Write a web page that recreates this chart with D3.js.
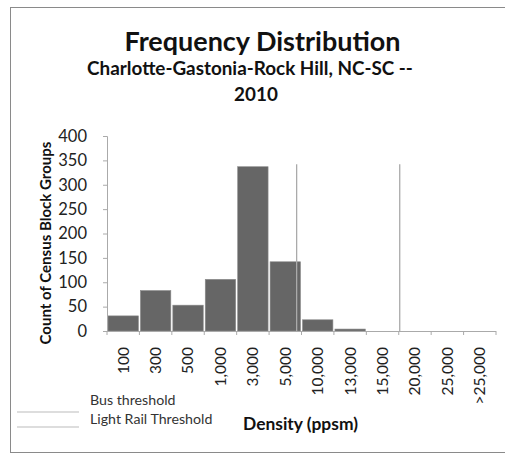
<!DOCTYPE html>
<html><head><meta charset="utf-8">
<script src="https://cdn.jsdelivr.net/npm/d3@7"></script>
<style>body{margin:0;background:#fff}svg{display:block}text{font-family:Lato,"Open Sans",sans-serif}</style>
</head><body><svg id="c" width="505" height="455"></svg>
<script>
const categories = ["100","300","500","1,000","3,000","5,000","10,000","13,000","15,000","20,000","25,000",">25,000"];
const counts = [31, 83, 53, 106, 337, 142, 23, 4, 0, 0, 0, 0];
const yTicks = [0,50,100,150,200,250,300,350,400];
const thresholdNames = ["Bus threshold","Light Rail Threshold"];
const thresholdPos = [5.85, 9.03];   // in category-index units
const thresholdTop = 342;

const svg = d3.select("#c");
const M = {l:107, r:496, t:136, b:331};
const x = d3.scaleBand().domain(categories).range([M.l, M.r]).padding(0);
const xc = d3.scaleLinear().domain([0, categories.length]).range([M.l, M.r]);
const y = d3.scaleLinear().domain([0,400]).range([M.b, M.t]);

function fit(sel, w){ const n=sel.node(); const fs=parseFloat(sel.attr("font-size")); const cur=n.getComputedTextLength(); sel.attr("font-size", fs*w/cur); return sel; }

// frame
svg.append("rect").attr("x",10.5).attr("y",7.5).attr("width",510).attr("height",445).attr("fill","none").attr("stroke","#8a8a8a").attr("stroke-width",1);

// titles
fit(svg.append("text").attr("x",262.5).attr("y",51).attr("text-anchor","middle").attr("font-weight","bold").attr("font-size",26).attr("fill","#111").text("Frequency Distribution"),276);
const sub = fit(svg.append("text").attr("x",250).attr("y",75).attr("text-anchor","middle").attr("font-weight","bold").attr("font-size",17).attr("fill","#111").text("Charlotte-Gastonia-Rock Hill, NC-SC --"),326);
svg.append("text").attr("x",256).attr("y",101).attr("text-anchor","middle").attr("font-weight","bold").attr("font-size",sub.attr("font-size")).attr("fill","#111").text("2010");

// bars
svg.append("g").selectAll("rect").data(counts).join("rect")
  .attr("x",(d,i)=>x(categories[i])+1).attr("width",x.bandwidth()-2)
  .attr("y",d=>y(d)).attr("height",d=>y(0)-y(d))
  .attr("fill","#666").attr("stroke","#8c8c8c").attr("stroke-width",0.6);

// threshold lines
svg.append("g").selectAll("line").data(thresholdPos).join("line")
  .attr("x1",d=>xc(d)).attr("x2",d=>xc(d)).attr("y1",y(thresholdTop)).attr("y2",y(0))
  .attr("stroke","#aaa").attr("stroke-width",1.3);

// y axis
const ya = svg.append("g").attr("transform",`translate(${M.l},0)`)
  .call(d3.axisLeft(y).tickValues(yTicks).tickSize(4).tickPadding(16).tickFormat(d3.format("d")));
ya.select(".domain").attr("stroke","#aaa");
ya.selectAll(".tick line").attr("stroke","#aaa");
ya.selectAll("text").attr("font-size",16.5).attr("fill","#222").attr("font-family","Lato");

// x axis boundary ticks
const xa = svg.append("g");
xa.append("line").attr("x1",M.l).attr("x2",M.r).attr("y1",M.b+0.5).attr("y2",M.b+0.5).attr("stroke","#aaa");
xa.selectAll("line.tk").data(d3.range(categories.length+1)).join("line").attr("class","tk")
  .attr("x1",d=>xc(d)).attr("x2",d=>xc(d)).attr("y1",M.b).attr("y2",M.b+4).attr("stroke","#aaa");
xa.selectAll("text").data(categories).join("text")
  .attr("transform",d=>`translate(${x(d)+x.bandwidth()/2},347) rotate(-90)`)
  .attr("text-anchor","end").attr("dy","0.35em").attr("font-size",15.5).attr("fill","#222").text(d=>d);

// axis titles
const yt = svg.append("text").attr("transform","translate(51,243) rotate(-90)").attr("text-anchor","middle")
  .attr("font-weight","bold").attr("font-size",15).attr("fill","#111").text("Count of Census Block Groups");
fit(yt,203);
const xt = svg.append("text").attr("x",300.5).attr("y",430).attr("text-anchor","middle")
  .attr("font-weight","bold").attr("font-size",16).attr("fill","#111").text("Density (ppsm)");
fit(xt,115);

// legend
const legY = [412, 427], legTextY = [405, 424];
thresholdNames.forEach((n,i)=>{
  svg.append("line").attr("x1",17).attr("x2",79).attr("y1",legY[i]).attr("y2",legY[i]).attr("stroke","#bbb").attr("stroke-width",1.2);
  svg.append("text").attr("x",90).attr("y",legTextY[i]).attr("font-size",14.2).attr("fill","#333").text(n);
});
</script></body></html>
